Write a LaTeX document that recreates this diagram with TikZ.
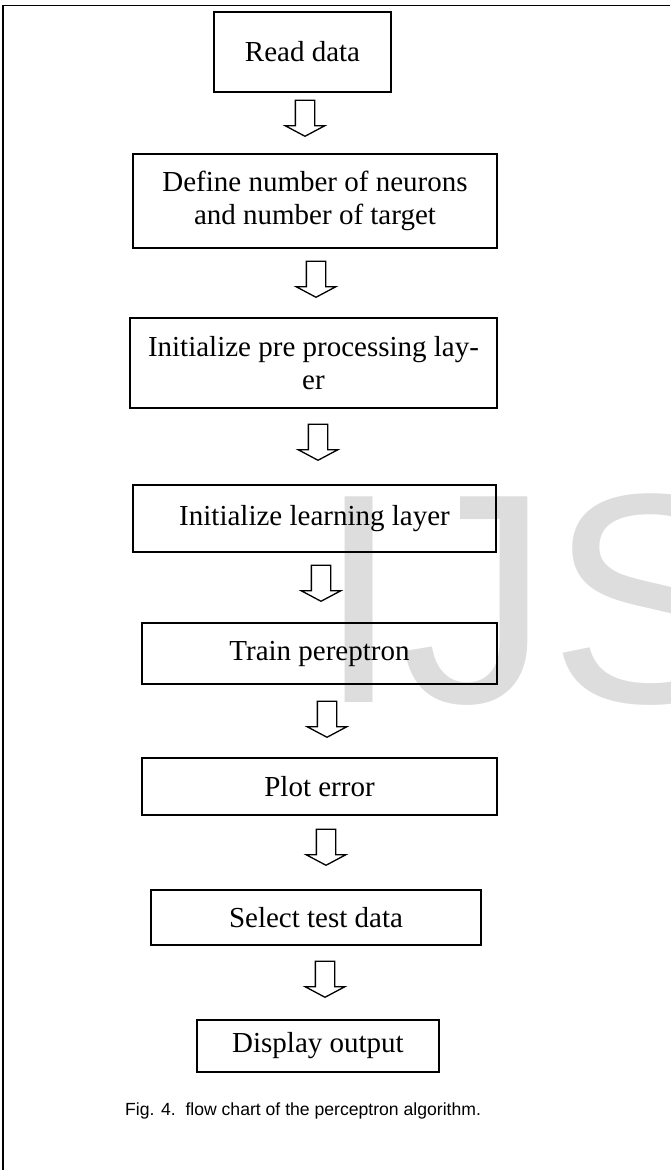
\documentclass[tikz,border=0pt]{standalone}
\usepackage{fontspec}
\setmainfont{Liberation Serif}
\newfontfamily\capfont{Liberation Sans}
\usetikzlibrary{shapes.arrows}
\definecolor{wmgray}{HTML}{DDDDDD}

\begin{document}
\begin{tikzpicture}[
  x=1pt, y=-1pt,
  stepbox/.style={rectangle, draw, line width=1.6pt, align=center, inner sep=0pt,
    font=\fontsize{29}{33}\selectfont},
  flowarrow/.style={single arrow, draw, line width=1.3pt, rotate=-90, anchor=tip,
    minimum height=36pt, minimum width=38pt, inner sep=9pt,
    single arrow head extend=10pt, single arrow tip angle=124}
]

\useasboundingbox (0,0) rectangle (670,1170);
\clip (0,0) rectangle (670,1170);

% watermark and frame
\node[anchor=base west, inner sep=0pt, text=wmgray,
  font=\capfont\fontsize{299}{299}\selectfont] (wm) at (317,702) {IJS};
\draw[line width=1.8pt] (2.7,1170) -- (2.7,5.5) -- (670,5.5);

% steps
\node[stepbox, minimum width=177, minimum height=80] (read) at (302.5,52) {Read data};
\node[stepbox, minimum width=364, minimum height=94] (define) at (315,201)
  {Define number of neurons\\and number of target};
\node[stepbox, minimum width=367, minimum height=90] (prep) at (313.5,363)
  {Initialize pre processing lay-\\er};
\node[stepbox, minimum width=363, minimum height=67] (learn) at (314.5,518.5)
  {Initialize learning layer};
\node[stepbox, minimum width=355, minimum height=61] (train) at (319.5,653.5)
  {Train pereptron};
\node[stepbox, minimum width=355, minimum height=57] (plot) at (319.5,786.5)
  {Plot error};
\node[stepbox, minimum width=330, minimum height=55] (select) at (316,917.5)
  {Select test data};
\node[stepbox, minimum width=242, minimum height=52] (display) at (318,1046)
  {Display output};

% block arrows
\node[flowarrow] (a1) at (305,137) {};
\node[flowarrow] (a2) at (316,298) {};
\node[flowarrow] (a3) at (318,461) {};
\node[flowarrow] (a4) at (321,602) {};
\node[flowarrow] (a5) at (327,738) {};
\node[flowarrow] (a6) at (326,866) {};
\node[flowarrow] (a7) at (325,998) {};

\node[anchor=base west, inner sep=0pt, font=\capfont\fontsize{17.6}{20}\selectfont]
  (cap) at (125,1115) {Fig. 4.\ \ flow chart of the perceptron algorithm.};

\end{tikzpicture}
\end{document}
